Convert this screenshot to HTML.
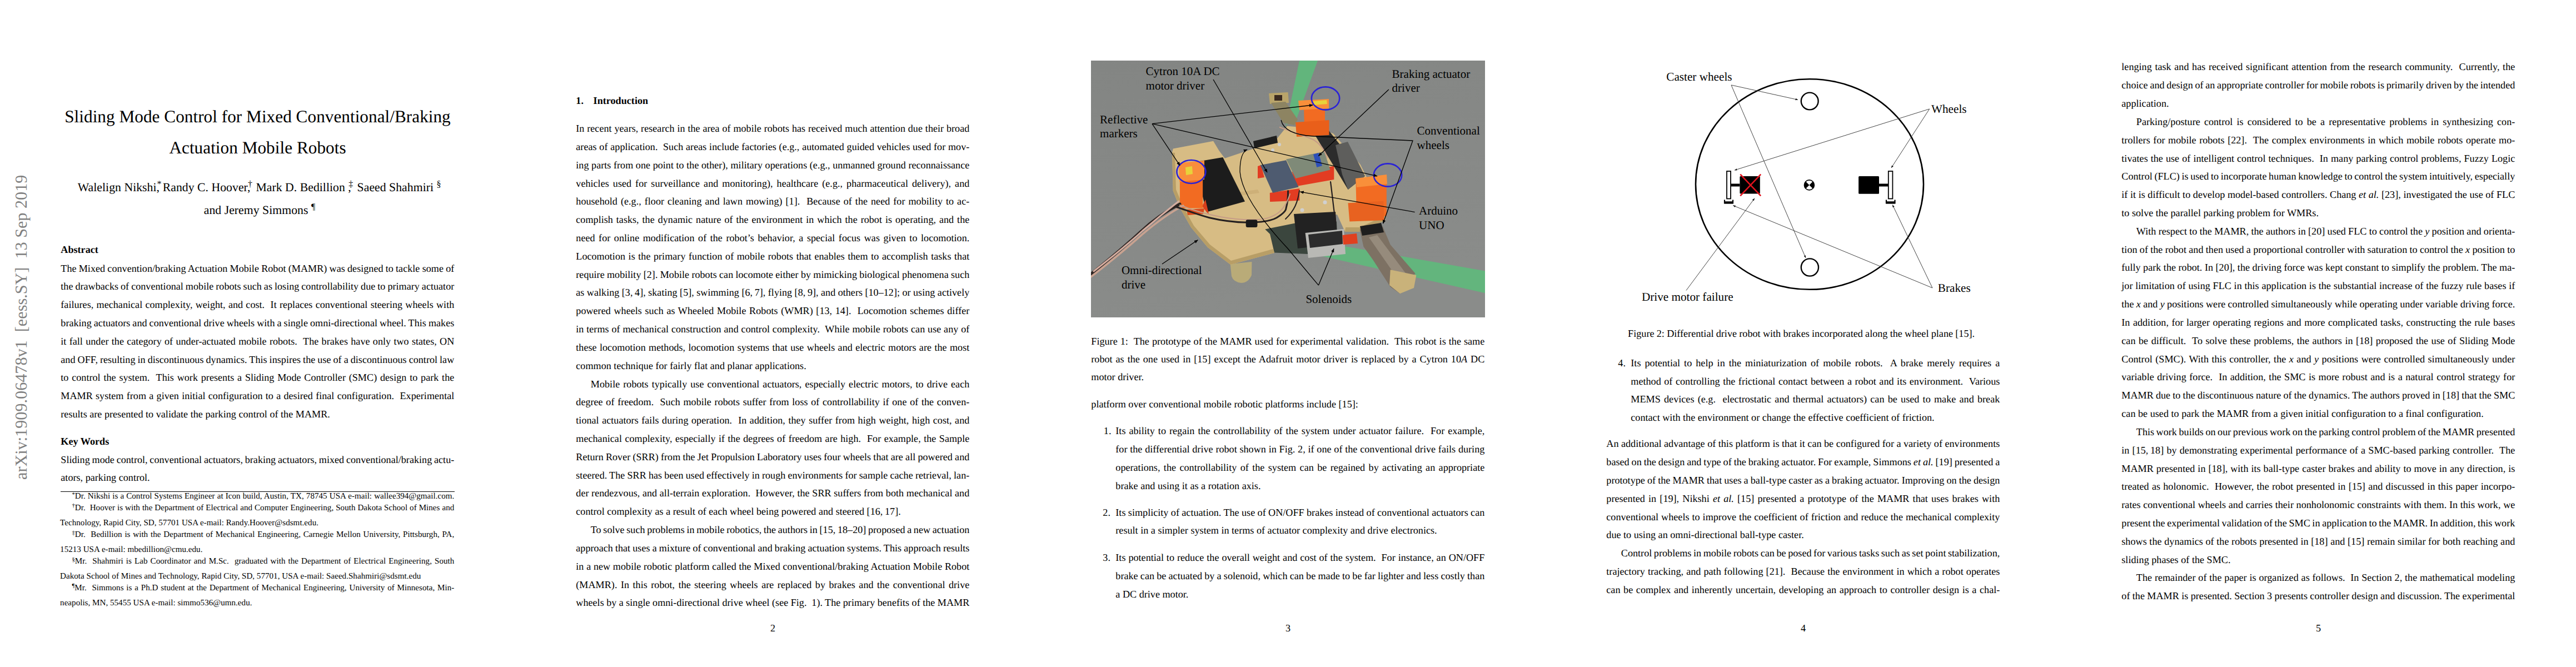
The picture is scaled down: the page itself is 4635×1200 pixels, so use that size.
<!DOCTYPE html>
<html><head><meta charset="utf-8"><style>
html,body{margin:0;padding:0;background:#fff;}
body{width:4635px;height:1200px;overflow:hidden;position:relative;font-family:"Liberation Serif",serif;color:#000;text-rendering:geometricPrecision;}
.l{position:absolute;line-height:0;white-space:nowrap;}
sup{font-size:0.74em;vertical-align:0;position:relative;top:-0.5em;line-height:0;}
sup.fs{font-size:0.7em;top:-0.4em;}
sup.au{margin-left:-0.28em;}
.stamp{position:absolute;font-family:"Liberation Serif",serif;color:#808080;white-space:nowrap;line-height:0;transform-origin:0 0;transform:rotate(-90deg);}
</style></head><body>
<div class="stamp" style="left:38.4px;top:862.5px;font-size:30.2px;">arXiv:1909.06478v1&nbsp;&nbsp;[eess.SY]&nbsp;&nbsp;13 Sep 2019</div>
<div class="fnrule" style="position:absolute;left:109px;top:884px;width:709px;height:1px;background:#000"></div>
<svg style="position:absolute;left:1963px;top:109px" width="709" height="462" viewBox="0 0 709 462">
<defs>
<linearGradient id="bg" x1="0" y1="0" x2="0.3" y2="1">
<stop offset="0" stop-color="#838583"/><stop offset="1" stop-color="#8a8c8a"/>
</linearGradient>
<marker id="ah" viewBox="0 0 10 10" refX="9" refY="5" markerWidth="7" markerHeight="7" orient="auto-start-reverse" markerUnits="userSpaceOnUse">
<path d="M0 1 L10 5 L0 9 z" fill="#000"/></marker>
</defs>
<rect width="709" height="462" fill="url(#bg)"/>
<!-- green stripes -->
<polygon points="375,0 408,0 368,110 354,112 350,120" fill="#62b57c"/>
<polygon points="330,312 709,378.4 709,418.3 330,332.5" fill="#63b57d"/>
<!-- dark underside -->
<polygon points="313,302 365,292 425,273 442,290 444,338 390,348 318,345" fill="#3b463e"/>
<!-- omni wheel -->
<path d="M250.6,366 L289.4,362 L289,386 Q283,400 270,400 Q256,398 253,388 Z" fill="#b9ab78"/>
<!-- rear brake -->
<polygon points="320,59 354.5,57 356,76 322,78" fill="#b9a46a"/>
<polygon points="324,76 350,74 372,106 366,116 346,112" fill="#8d8462"/>
<rect x="330" y="62" width="14" height="10" fill="#3a2a20"/>
<!-- platform -->
<polygon points="147.7,158.6 220.1,144.8 230.4,162 240.8,175.8 292.5,158.6 334,141.3 353,117.7 415.4,123.2 436.2,131.6 484.7,187 495,207.7 526.2,270 529.7,287.3 484.7,308 457,308 443,277 365,293 313.2,303.4 322,312 330,346 251,367 210,336 180,300 160,265 147.7,234.4 146,165.5" fill="#d7bc84"/>
<polygon points="146,165.5 147.7,234.4 160,265 180,300 210,336 251,367 330,346 328,339 252,360 214,331 185,297 166,263 153,232 151,166" fill="#b89e66"/>
<polygon points="457,308 484.7,308 529.7,287.3 528,279 484,300 458,300" fill="#b89e66"/>
<polygon points="172,250 300,232 303,238 175,256" fill="#c4a36c" opacity="0.5"/>
<!-- black slot -->
<polygon points="292,145 334,135 336,148 294,158" fill="#1e1e1e"/>
<!-- motor right bottom -->
<polygon points="483.6,303.8 524.9,298.6 538.7,331.3 583.6,383.1 556,419.3 538.7,407.2 507.7,358.9 490.4,334.8" fill="#7d7163"/>
<polygon points="500,318 515,314 568,385 553,394" fill="#a69d8e" opacity="0.6"/>
<polygon points="538.7,376.2 585.3,386 581,409 556,419.3 537,404" fill="#c9b27a"/>
<polygon points="484,298 522,292 527,309 488,315" fill="#1e1e1e"/>
<!-- solenoid -->
<polygon points="365,276 440,272 444,330 372,338" fill="#222222"/>
<polygon points="385.6,310 455,303 458,348 391,355" fill="#b9b9b5"/>
<polygon points="391,313 452,306 453,330 394,337" fill="#2c2c2c"/>
<polygon points="452.5,314 478,311 480,329 454,331" fill="#e0401e"/>
<!-- black box front -->
<polygon points="185.6,182.7 237.3,174.1 277,253.4 208,272.4" fill="#1c1c1c"/>
<polygon points="200,262 208,272.4 212,276 206,250" fill="#d8401c"/>
<!-- rear slab -->
<polygon points="401.6,131.6 427.9,126 493,207.7 462.5,232" fill="#2c2c2c"/>
<polygon points="440,152 462,146 493,207.7 462.5,232 452,205" fill="#5e5e5c"/>
<!-- electronics -->
<polygon points="361.5,200 437.3,190 437.3,214 370,226" fill="#e23c22"/>
<polygon points="321.8,238 375.3,230 375.3,251.7 322,254" fill="#e23c22"/>
<polygon points="300,190 306,188 312,210 300,212" fill="#e23c22"/>
<polygon points="351.1,177.6 420,163.8 430.4,196.5 368.4,212" fill="#7f8a78"/>
<polygon points="304.6,187.9 351.1,179.3 373.6,227.6 327,237.9" fill="#4e5b70"/>
<rect x="403" y="167" width="10" height="24" fill="#2d4fb8" transform="rotate(-15 408 179)"/>
<circle cx="339" cy="151" r="3" fill="#cfcfcf"/><circle cx="327" cy="161" r="3" fill="#cfcfcf"/>
<circle cx="421" cy="255" r="3.5" fill="#d0d0d0"/><circle cx="380" cy="269" r="3.5" fill="#d0d0d0"/>
<!-- orange pillars -->
<polygon points="159.8,188 201.1,184 201.1,265.5 160,265.5" fill="#f26b22"/>
<polygon points="158,184 204,180 204,214 159,218" fill="#f98d3c"/>
<polygon points="170,192 182,190 183,204 171,206" fill="#e8d23a"/>
<polygon points="172,268 204,266 202,276 174,278" fill="#d84a1c"/>
<polygon points="383,84 421,82 421,120 384,122" fill="#f26b22"/>
<polygon points="368,111 428.5,107 428.5,134 370,137" fill="#e95f1a"/>
<polygon points="373,72 428,69 428,86 375,89" fill="#f98f3a"/>
<polygon points="400,73 424,71 425,78 401,80" fill="#e8d23a"/>
<polygon points="476.4,214 531.8,208 531.8,280 478,282" fill="#f26b22"/>
<polygon points="462.5,256.2 526.2,252.7 527.6,287.3 465.3,289.4" fill="#e86220"/>
<polygon points="476,212 532,205 533,222 478,228" fill="#f98f3a"/>
<!-- cables -->
<g fill="none" stroke-linecap="round">
<path d="M0,384 C30,360 60,335 88,309 C115,284 140,268 160,258" stroke="#2e2422" stroke-width="5"/>
<path d="M0,389 C32,364 62,340 92,313 C120,289 145,272 166,261" stroke="#c9a290" stroke-width="3.5"/>
<path d="M5,379 C36,355 66,331 93,306 C120,283 140,267 158,253" stroke="#d4ada0" stroke-width="3"/>
<path d="M154.6,263.8 C180,272 195,278 213.2,282.7 C240,289 262,291 282.2,291.3 C305,291 325,288 334,282.7 C345,276 351,270 351,265.5 C354,255 354.6,244 354.6,234.4" stroke="#252020" stroke-width="3"/>
<path d="M160,260 C210,280 260,288 300,286 C330,284 348,272 358,240" stroke="#c69c86" stroke-width="2"/>
<path d="M375,234 C372,255 366,270 350,285" stroke="#252020" stroke-width="2"/>
<path d="M431,218 C434,240 436,262 440,290" stroke="#262020" stroke-width="2.2"/>
<path d="M340,120 C360,128 380,134 395,140 C410,146 420,160 425,175" stroke="#c69c86" stroke-width="2.2"/>
</g>
<rect x="278.7" y="286.2" width="20.7" height="13.8" rx="3" fill="#1a1a1a"/>
<!-- blue marker circles -->
<g fill="none" stroke="#2a22d6" stroke-width="2.6">
<ellipse cx="180.4" cy="200" rx="26" ry="21"/>
<ellipse cx="422" cy="68" rx="25.2" ry="20.6"/>
<ellipse cx="534" cy="206" rx="25.2" ry="20.6"/>
</g>
<!-- leader lines -->
<g fill="none" stroke="#000" stroke-width="1.3">
<line x1="220" y1="34" x2="317" y2="201" marker-end="url(#ah)"/>
<line x1="110" y1="113.6" x2="160" y2="188.8" marker-end="url(#ah)"/>
<line x1="110" y1="113.6" x2="399" y2="80" marker-end="url(#ah)"/>
<line x1="110" y1="113.6" x2="515" y2="207.8" marker-end="url(#ah)"/>
<line x1="535.8" y1="52" x2="409.4" y2="171.5" marker-end="url(#ah)"/>
<path d="M342,107 Q348,133 400,136 L579,144 L525.5,293" marker-end="url(#ah)"/>
<line x1="582.6" y1="272.6" x2="376.5" y2="236.2" marker-end="url(#ah)"/>
<path d="M409.4,404.2 L437,338.4" marker-end="url(#ah)"/>
<path d="M409.4,404.2 L354,338 Q272,250 268,200 Q268,166 281,160" marker-end="url(#ah)"/>
<line x1="128" y1="366" x2="192.2" y2="322.8" marker-end="url(#ah)"/>
</g>
</svg>
<svg style="position:absolute;left:0;top:0" width="4635" height="1200" viewBox="0 0 4635 1200">
<g fill="none" stroke="#000">
<ellipse cx="3256" cy="331.5" rx="205" ry="189.3" stroke-width="2.6"/>
<circle cx="3256.2" cy="182" r="15.4" stroke-width="2.4"/>
<circle cx="3256.4" cy="481" r="15.6" stroke-width="2.4"/>
<!-- left wheel -->
<rect x="3107" y="308" width="7" height="49.5" stroke-width="1.8" fill="#fff"/>
<path d="M3103 359.5 V365.5 H3118 V359.5" stroke-width="2.2"/>
<path d="M3103 364.3 H3118" stroke-width="4"/>
<rect x="3394" y="359.5" width="0" height="0"/>
<!-- right wheel -->
<rect x="3397.8" y="308" width="7.6" height="49.5" stroke-width="1.8" fill="#fff"/>
<path d="M3394 359.5 V365.5 H3409.5 V359.5" stroke-width="2.2"/>
<path d="M3394 364.3 H3409.5" stroke-width="4"/>
</g>
<g fill="#000">
<rect x="3114.5" y="330.5" width="16" height="5"/>
<rect x="3130.4" y="317" width="36.4" height="31.5" rx="1.5"/>
<rect x="3381" y="330.5" width="16.5" height="5"/>
<rect x="3344.1" y="317" width="36.9" height="31.7" rx="1.5"/>
</g>
<g stroke="#e0141e" stroke-width="2.6" stroke-linecap="butt">
<line x1="3131.3" y1="313.6" x2="3168.2" y2="352.3"/>
<line x1="3168.2" y1="313.6" x2="3131.3" y2="352.3"/>
</g>
<!-- center of mass -->
<circle cx="3255.4" cy="332.9" r="9" fill="#fff" stroke="#000" stroke-width="1.6"/>
<path d="M3255.4 332.9 L3249.04 326.54 A9 9 0 0 0 3249.04 339.26 Z M3255.4 332.9 L3261.76 326.54 A9 9 0 0 1 3261.76 339.26 Z" fill="#000"/>
<!-- leaders -->
<defs><marker id="ah2" viewBox="0 0 10 10" refX="10" refY="5" markerWidth="4.5" markerHeight="4.5" orient="auto" markerUnits="userSpaceOnUse"><path d="M0 1 L10 5 L0 9 z" fill="#111"/></marker></defs>
<g stroke="#3a3a3a" stroke-width="0.95" fill="none">
<line x1="3115" y1="153" x2="3235" y2="179.5" marker-end="url(#ah2)"/>
<line x1="3115" y1="153" x2="3249" y2="464" marker-end="url(#ah2)"/>
<line x1="3471.7" y1="196" x2="3121" y2="306.2" marker-end="url(#ah2)"/>
<line x1="3471.7" y1="196" x2="3403" y2="302" marker-end="url(#ah2)"/>
<line x1="3477" y1="518" x2="3118.2" y2="369.6" marker-end="url(#ah2)"/>
<line x1="3477" y1="518" x2="3405.2" y2="368.5" marker-end="url(#ah2)"/>
<line x1="3033.9" y1="522.6" x2="3157" y2="356.8" marker-end="url(#ah2)"/>
</g>
</svg>

<div class="l" id="L0" style="left:116.21px;top:209.74px;font-size:31.30px;">Sliding Mode Control for Mixed Conventional/Braking</div>
<div class="l" id="L1" style="left:304.41px;top:265.94px;font-size:31.30px;">Actuation Mobile Robots</div>
<div class="l" id="L2" style="left:139.80px;top:337.24px;font-size:21.80px;">Walelign Nikshi,<sup class="au">*</sup></div>
<div class="l" id="L3" style="left:292.70px;top:337.24px;font-size:21.80px;">Randy C. Hoover,<sup class="au">&dagger;</sup></div>
<div class="l" id="L4" style="left:460.40px;top:337.24px;font-size:21.80px;">Mark D. Bedillion ,<sup class="au">&Dagger;</sup></div>
<div class="l" id="L5" style="left:642.60px;top:337.24px;font-size:21.80px;">Saeed Shahmiri <sup>&sect;</sup></div>
<div class="l" id="L6" style="left:366.77px;top:377.64px;font-size:21.80px;">and Jeremy Simmons <sup>&para;</sup></div>
<div class="l" id="L7" style="left:109.30px;top:449.27px;font-size:18.17px;"><b>Abstract</b></div>
<div class="l" id="L8" style="left:109.30px;top:482.57px;font-size:18.17px;word-spacing:-0.335px;">The Mixed convention/braking Actuation Mobile Robot (MAMR) was designed to tackle some of</div>
<div class="l" id="L9" style="left:109.30px;top:515.39px;font-size:18.17px;word-spacing:-0.576px;">the drawbacks of conventional mobile robots such as losing controllability due to primary actuator</div>
<div class="l" id="L10" style="left:109.30px;top:548.21px;font-size:18.17px;word-spacing:0.698px;">failures, mechanical complexity, weight, and cost.&nbsp; It replaces conventional steering wheels with</div>
<div class="l" id="L11" style="left:109.30px;top:581.03px;font-size:18.17px;word-spacing:-0.510px;">braking actuators and conventional drive wheels with a single omni-directional wheel. This makes</div>
<div class="l" id="L12" style="left:109.30px;top:613.85px;font-size:18.17px;word-spacing:0.744px;">it fall under the category of under-actuated mobile robots.&nbsp; The brakes have only two states, ON</div>
<div class="l" id="L13" style="left:109.30px;top:646.67px;font-size:18.17px;word-spacing:-0.523px;">and OFF, resulting in discontinuous dynamics. This inspires the use of a discontinuous control law</div>
<div class="l" id="L14" style="left:109.30px;top:679.49px;font-size:18.17px;word-spacing:1.249px;">to control the system.&nbsp; This work presents a Sliding Mode Controller (SMC) design to park the</div>
<div class="l" id="L15" style="left:109.30px;top:712.31px;font-size:18.17px;word-spacing:0.703px;">MAMR system from a given initial configuration to a desired final configuration.&nbsp; Experimental</div>
<div class="l" id="L16" style="left:109.30px;top:745.13px;font-size:18.17px;">results are presented to validate the parking control of the MAMR.</div>
<div class="l" id="L17" style="left:109.30px;top:793.77px;font-size:18.17px;"><b>Key Words</b></div>
<div class="l" id="L18" style="left:109.30px;top:826.57px;font-size:18.17px;word-spacing:-0.774px;">Sliding mode control, conventional actuators, braking actuators, mixed conventional/braking actu-</div>
<div class="l" id="L19" style="left:109.30px;top:859.39px;font-size:18.17px;">ators, parking control.</div>
<div class="l" id="L20" style="left:129.50px;top:893.19px;font-size:15.14px;word-spacing:0.312px;"><sup class="fs">*</sup>Dr. Nikshi is a Control Systems Engineer at Icon build, Austin, TX, 78745 USA e-mail: wallee394@gmail.com.</div>
<div class="l" id="L21" style="left:129.50px;top:913.59px;font-size:15.14px;word-spacing:0.193px;"><sup class="fs">&dagger;</sup>Dr.&nbsp; Hoover is with the Department of Electrical and Computer Engineering, South Dakota School of Mines and</div>
<div class="l" id="L22" style="left:108.10px;top:940.89px;font-size:15.14px;">Technology, Rapid City, SD, 57701 USA e-mail: Randy.Hoover@sdsmt.edu.</div>
<div class="l" id="L23" style="left:129.50px;top:961.79px;font-size:15.14px;word-spacing:1.021px;"><sup class="fs">&Dagger;</sup>Dr.&nbsp; Bedillion is with the Department of Mechanical Engineering, Carnegie Mellon University, Pittsburgh, PA,</div>
<div class="l" id="L24" style="left:108.10px;top:989.29px;font-size:15.14px;">15213 USA e-mail: mbedillion@cmu.edu.</div>
<div class="l" id="L25" style="left:129.50px;top:1009.99px;font-size:15.14px;word-spacing:1.282px;"><sup class="fs">&sect;</sup>Mr.&nbsp; Shahmiri is Lab Coordinator and M.Sc.&nbsp; graduated with the Department of Electrical Engineering, South</div>
<div class="l" id="L26" style="left:108.10px;top:1037.29px;font-size:15.14px;">Dakota School of Mines and Technology, Rapid City, SD, 57701, USA e-mail: Saeed.Shahmiri@sdsmt.edu</div>
<div class="l" id="L27" style="left:129.50px;top:1057.69px;font-size:15.14px;word-spacing:1.048px;"><sup class="fs">&para;</sup>Mr.&nbsp; Simmons is a Ph.D student at the Department of Mechanical Engineering, University of Minnesota, Min-</div>
<div class="l" id="L28" style="left:108.10px;top:1084.89px;font-size:15.14px;">neapolis, MN, 55455 USA e-mail: simmo536@umn.edu.</div>
<div class="l" id="L29" style="left:1036.30px;top:180.87px;font-size:18.17px;"><b>1.</b></div>
<div class="l" id="L30" style="left:1067.60px;top:180.87px;font-size:18.17px;"><b>Introduction</b></div>
<div class="l" id="L31" style="left:1036.30px;top:231.07px;font-size:18.17px;word-spacing:0.296px;">In recent years, research in the area of mobile robots has received much attention due their broad</div>
<div class="l" id="L32" style="left:1036.30px;top:263.89px;font-size:18.17px;word-spacing:0.228px;">areas of application.&nbsp; Such areas include factories (e.g., automated guided vehicles used for mov-</div>
<div class="l" id="L33" style="left:1036.30px;top:296.71px;font-size:18.17px;word-spacing:0.046px;">ing parts from one point to the other), military operations (e.g., unmanned ground reconnaissance</div>
<div class="l" id="L34" style="left:1036.30px;top:329.53px;font-size:18.17px;word-spacing:2.491px;">vehicles used for surveillance and monitoring), healthcare (e.g., pharmaceutical delivery), and</div>
<div class="l" id="L35" style="left:1036.30px;top:362.35px;font-size:18.17px;word-spacing:1.456px;">household (e.g., floor cleaning and lawn mowing) [1].&nbsp; Because of the need for mobility to ac-</div>
<div class="l" id="L36" style="left:1036.30px;top:395.17px;font-size:18.17px;word-spacing:1.382px;">complish tasks, the dynamic nature of the environment in which the robot is operating, and the</div>
<div class="l" id="L37" style="left:1036.30px;top:427.99px;font-size:18.17px;word-spacing:2.002px;">need for online modification of the robot&rsquo;s behavior, a special focus was given to locomotion.</div>
<div class="l" id="L38" style="left:1036.30px;top:460.81px;font-size:18.17px;word-spacing:1.011px;">Locomotion is the primary function of mobile robots that enables them to accomplish tasks that</div>
<div class="l" id="L39" style="left:1036.30px;top:493.63px;font-size:18.17px;word-spacing:-0.289px;">require mobility [2]. Mobile robots can locomote either by mimicking biological phenomena such</div>
<div class="l" id="L40" style="left:1036.30px;top:526.45px;font-size:18.17px;word-spacing:-0.093px;">as walking [3,&thinsp;4], skating [5], swimming [6,&thinsp;7], flying [8,&thinsp;9], and others [10&ndash;12]; or using actively</div>
<div class="l" id="L41" style="left:1036.30px;top:559.27px;font-size:18.17px;word-spacing:1.103px;">powered wheels such as Wheeled Mobile Robots (WMR) [13, 14].&nbsp; Locomotion schemes differ</div>
<div class="l" id="L42" style="left:1036.30px;top:592.09px;font-size:18.17px;word-spacing:0.309px;">in terms of mechanical construction and control complexity.&nbsp; While mobile robots can use any of</div>
<div class="l" id="L43" style="left:1036.30px;top:624.91px;font-size:18.17px;word-spacing:0.857px;">these locomotion methods, locomotion systems that use wheels and electric motors are the most</div>
<div class="l" id="L44" style="left:1036.30px;top:657.73px;font-size:18.17px;">common technique for fairly flat and planar applications.</div>
<div class="l" id="L45" style="left:1062.80px;top:690.55px;font-size:18.17px;word-spacing:1.499px;">Mobile robots typically use conventional actuators, especially electric motors, to drive each</div>
<div class="l" id="L46" style="left:1036.30px;top:723.37px;font-size:18.17px;word-spacing:1.130px;">degree of freedom.&nbsp; Such mobile robots suffer from loss of controllability if one of the conven-</div>
<div class="l" id="L47" style="left:1036.30px;top:756.19px;font-size:18.17px;word-spacing:1.001px;">tional actuators fails during operation.&nbsp; In addition, they suffer from high weight, high cost, and</div>
<div class="l" id="L48" style="left:1036.30px;top:789.01px;font-size:18.17px;word-spacing:0.924px;">mechanical complexity, especially if the degrees of freedom are high.&nbsp; For example, the Sample</div>
<div class="l" id="L49" style="left:1036.30px;top:821.83px;font-size:18.17px;word-spacing:-0.365px;">Return Rover (SRR) from the Jet Propulsion Laboratory uses four wheels that are all powered and</div>
<div class="l" id="L50" style="left:1036.30px;top:854.65px;font-size:18.17px;word-spacing:-0.374px;">steered. The SRR has been used effectively in rough environments for sample cache retrieval, lan-</div>
<div class="l" id="L51" style="left:1036.30px;top:887.47px;font-size:18.17px;word-spacing:0.091px;">der rendezvous, and all-terrain exploration.&nbsp; However, the SRR suffers from both mechanical and</div>
<div class="l" id="L52" style="left:1036.30px;top:920.29px;font-size:18.17px;">control complexity as a result of each wheel being powered and steered [16,&thinsp;17].</div>
<div class="l" id="L53" style="left:1062.80px;top:953.11px;font-size:18.17px;word-spacing:-0.906px;">To solve such problems in mobile robotics, the authors in [15,&thinsp;18&ndash;20] proposed a new actuation</div>
<div class="l" id="L54" style="left:1036.30px;top:985.93px;font-size:18.17px;word-spacing:-0.433px;">approach that uses a mixture of conventional and braking actuation systems. This approach results</div>
<div class="l" id="L55" style="left:1036.30px;top:1018.75px;font-size:18.17px;word-spacing:0.173px;">in a new mobile robotic platform called the Mixed conventional/braking Actuation Mobile Robot</div>
<div class="l" id="L56" style="left:1036.30px;top:1051.57px;font-size:18.17px;word-spacing:1.953px;">(MAMR). In this robot, the steering wheels are replaced by brakes and the conventional drive</div>
<div class="l" id="L57" style="left:1036.30px;top:1084.39px;font-size:18.17px;word-spacing:-0.101px;">wheels by a single omni-directional drive wheel (see Fig.&nbsp; 1). The primary benefits of the MAMR</div>
<div class="l" id="L58" style="left:1385.96px;top:1129.87px;font-size:18.17px;">2</div>
<div class="l" id="L59" style="left:2312.96px;top:1129.87px;font-size:18.17px;">3</div>
<div class="l" id="L60" style="left:3239.96px;top:1129.87px;font-size:18.17px;">4</div>
<div class="l" id="L61" style="left:4166.96px;top:1129.87px;font-size:18.17px;">5</div>
<div class="l" id="L62" style="left:1963.30px;top:613.77px;font-size:18.17px;word-spacing:0.516px;">Figure 1:&nbsp; The prototype of the MAMR used for experimental validation.&nbsp; This robot is the same</div>
<div class="l" id="L63" style="left:1963.30px;top:645.77px;font-size:18.17px;word-spacing:1.405px;">robot as the one used in [15] except the Adafruit motor driver is replaced by a Cytron 10<i>A</i> DC</div>
<div class="l" id="L64" style="left:1963.30px;top:677.77px;font-size:18.17px;">motor driver.</div>
<div class="l" id="L65" style="left:1963.30px;top:726.57px;font-size:18.17px;">platform over conventional mobile robotic platforms include [15]:</div>
<div class="l" id="L66" style="left:1985.80px;top:775.37px;font-size:18.17px;">1.</div>
<div class="l" id="L67" style="left:2007.30px;top:775.37px;font-size:18.17px;word-spacing:1.474px;">Its ability to regain the controllability of the system under actuator failure.&nbsp; For example,</div>
<div class="l" id="L68" style="left:2007.30px;top:808.19px;font-size:18.17px;word-spacing:0.237px;">for the differential drive robot shown in Fig. 2, if one of the conventional drive fails during</div>
<div class="l" id="L69" style="left:2007.30px;top:841.01px;font-size:18.17px;word-spacing:1.849px;">operations, the controllability of the system can be regained by activating an appropriate</div>
<div class="l" id="L70" style="left:2007.30px;top:873.83px;font-size:18.17px;">brake and using it as a rotation axis.</div>
<div class="l" id="L71" style="left:1984.30px;top:921.67px;font-size:18.17px;">2.</div>
<div class="l" id="L72" style="left:2007.30px;top:921.67px;font-size:18.17px;word-spacing:-0.173px;">Its simplicity of actuation. The use of ON/OFF brakes instead of conventional actuators can</div>
<div class="l" id="L73" style="left:2007.30px;top:954.49px;font-size:18.17px;">result in a simpler system in terms of actuator complexity and drive electronics.</div>
<div class="l" id="L74" style="left:1984.30px;top:1003.07px;font-size:18.17px;">3.</div>
<div class="l" id="L75" style="left:2007.30px;top:1003.07px;font-size:18.17px;word-spacing:0.404px;">Its potential to reduce the overall weight and cost of the system.&nbsp; For instance, an ON/OFF</div>
<div class="l" id="L76" style="left:2007.30px;top:1035.89px;font-size:18.17px;word-spacing:-0.335px;">brake can be actuated by a solenoid, which can be made to be far lighter and less costly than</div>
<div class="l" id="L77" style="left:2007.30px;top:1068.71px;font-size:18.17px;">a DC drive motor.</div>
<div class="l" id="L78" style="left:2929.10px;top:600.47px;font-size:18.17px;word-spacing:-0.281px;">Figure 2: Differential drive robot with brakes incorporated along the wheel plane [15].</div>
<div class="l" id="L79" style="left:2911.30px;top:652.77px;font-size:18.17px;">4.</div>
<div class="l" id="L80" style="left:2934.30px;top:652.77px;font-size:18.17px;word-spacing:2.518px;">Its potential to help in the miniaturization of mobile robots.&nbsp; A brake merely requires a</div>
<div class="l" id="L81" style="left:2934.30px;top:685.59px;font-size:18.17px;word-spacing:0.992px;">method of controlling the frictional contact between a robot and its environment.&nbsp; Various</div>
<div class="l" id="L82" style="left:2934.30px;top:718.41px;font-size:18.17px;word-spacing:1.695px;">MEMS devices (e.g.&nbsp; electrostatic and thermal actuators) can be used to make and break</div>
<div class="l" id="L83" style="left:2934.30px;top:751.23px;font-size:18.17px;">contact with the environment or change the effective coefficient of friction.</div>
<div class="l" id="L84" style="left:2890.30px;top:798.27px;font-size:18.17px;word-spacing:-0.056px;">An additional advantage of this platform is that it can be configured for a variety of environments</div>
<div class="l" id="L85" style="left:2890.30px;top:831.09px;font-size:18.17px;word-spacing:-0.589px;">based on the design and type of the braking actuator. For example, Simmons <i>et al.</i> [19] presented a</div>
<div class="l" id="L86" style="left:2890.30px;top:863.91px;font-size:18.17px;word-spacing:-0.468px;">prototype of the MAMR that uses a ball-type caster as a braking actuator. Improving on the design</div>
<div class="l" id="L87" style="left:2890.30px;top:896.73px;font-size:18.17px;word-spacing:1.641px;">presented in [19], Nikshi <i>et al.</i> [15] presented a prototype of the MAMR that uses brakes with</div>
<div class="l" id="L88" style="left:2890.30px;top:929.55px;font-size:18.17px;word-spacing:0.462px;">conventional wheels to improve the coefficient of friction and reduce the mechanical complexity</div>
<div class="l" id="L89" style="left:2890.30px;top:962.37px;font-size:18.17px;">due to using an omni-directional ball-type caster.</div>
<div class="l" id="L90" style="left:2916.80px;top:995.19px;font-size:18.17px;word-spacing:-0.959px;">Control problems in mobile robots can be posed for various tasks such as set point stabilization,</div>
<div class="l" id="L91" style="left:2890.30px;top:1028.01px;font-size:18.17px;word-spacing:0.586px;">trajectory tracking, and path following [21].&nbsp; Because the environment in which a robot operates</div>
<div class="l" id="L92" style="left:2890.30px;top:1060.83px;font-size:18.17px;word-spacing:1.056px;">can be complex and inherently uncertain, developing an approach to controller design is a chal-</div>
<div class="l" id="L93" style="left:3817.30px;top:120.47px;font-size:18.17px;word-spacing:1.083px;">lenging task and has received significant attention from the research community.&nbsp; Currently, the</div>
<div class="l" id="L94" style="left:3817.30px;top:153.29px;font-size:18.17px;word-spacing:-0.833px;">choice and design of an appropriate controller for mobile robots is primarily driven by the intended</div>
<div class="l" id="L95" style="left:3817.30px;top:186.11px;font-size:18.17px;">application.</div>
<div class="l" id="L96" style="left:3843.80px;top:218.93px;font-size:18.17px;word-spacing:2.595px;">Parking/posture control is considered to be a representative problems in synthesizing con-</div>
<div class="l" id="L97" style="left:3817.30px;top:251.75px;font-size:18.17px;word-spacing:1.073px;">trollers for mobile robots [22].&nbsp; The complex environments in which mobile robots operate mo-</div>
<div class="l" id="L98" style="left:3817.30px;top:284.57px;font-size:18.17px;word-spacing:0.509px;">tivates the use of intelligent control techniques.&nbsp; In many parking control problems, Fuzzy Logic</div>
<div class="l" id="L99" style="left:3817.30px;top:317.39px;font-size:18.17px;word-spacing:-0.916px;">Control (FLC) is used to incorporate human knowledge to control the system intuitively, especially</div>
<div class="l" id="L100" style="left:3817.30px;top:350.21px;font-size:18.17px;word-spacing:0.055px;">if it is difficult to develop model-based controllers. Chang <i>et al.</i> [23], investigated the use of FLC</div>
<div class="l" id="L101" style="left:3817.30px;top:383.03px;font-size:18.17px;">to solve the parallel parking problem for WMRs.</div>
<div class="l" id="L102" style="left:3843.80px;top:415.85px;font-size:18.17px;word-spacing:-0.269px;">With respect to the MAMR, the authors in [20] used FLC to control the <i>y</i> position and orienta-</div>
<div class="l" id="L103" style="left:3817.30px;top:448.67px;font-size:18.17px;word-spacing:-0.265px;">tion of the robot and then used a proportional controller with saturation to control the <i>x</i> position to</div>
<div class="l" id="L104" style="left:3817.30px;top:481.49px;font-size:18.17px;word-spacing:-0.035px;">fully park the robot. In [20], the driving force was kept constant to simplify the problem. The ma-</div>
<div class="l" id="L105" style="left:3817.30px;top:514.31px;font-size:18.17px;word-spacing:0.210px;">jor limitation of using FLC in this application is the substantial increase of the fuzzy rule bases if</div>
<div class="l" id="L106" style="left:3817.30px;top:547.13px;font-size:18.17px;word-spacing:-0.226px;">the <i>x</i> and <i>y</i> positions were controlled simultaneously while operating under variable driving force.</div>
<div class="l" id="L107" style="left:3817.30px;top:579.95px;font-size:18.17px;word-spacing:0.927px;">In addition, for larger operating regions and more complicated tasks, constructing the rule bases</div>
<div class="l" id="L108" style="left:3817.30px;top:612.77px;font-size:18.17px;word-spacing:0.976px;">can be difficult.&nbsp; To solve these problems, the authors in [18] proposed the use of Sliding Mode</div>
<div class="l" id="L109" style="left:3817.30px;top:645.59px;font-size:18.17px;word-spacing:0.953px;">Control (SMC). With this controller, the <i>x</i> and <i>y</i> positions were controlled simultaneously under</div>
<div class="l" id="L110" style="left:3817.30px;top:678.41px;font-size:18.17px;word-spacing:0.983px;">variable driving force.&nbsp; In addition, the SMC is more robust and is a natural control strategy for</div>
<div class="l" id="L111" style="left:3817.30px;top:711.23px;font-size:18.17px;word-spacing:-0.389px;">MAMR due to the discontinuous nature of the dynamics. The authors proved in [18] that the SMC</div>
<div class="l" id="L112" style="left:3817.30px;top:744.05px;font-size:18.17px;">can be used to park the MAMR from a given initial configuration to a final configuration.</div>
<div class="l" id="L113" style="left:3843.80px;top:776.87px;font-size:18.17px;word-spacing:-0.993px;">This work builds on our previous work on the parking control problem of the MAMR presented</div>
<div class="l" id="L114" style="left:3817.30px;top:809.69px;font-size:18.17px;word-spacing:0.658px;">in [15,&thinsp;18] by demonstrating experimental performance of a SMC-based parking controller.&nbsp; The</div>
<div class="l" id="L115" style="left:3817.30px;top:842.51px;font-size:18.17px;word-spacing:0.444px;">MAMR presented in [18], with its ball-type caster brakes and ability to move in any direction, is</div>
<div class="l" id="L116" style="left:3817.30px;top:875.33px;font-size:18.17px;word-spacing:0.694px;">treated as holonomic.&nbsp; However, the robot presented in [15] and discussed in this paper incorpo-</div>
<div class="l" id="L117" style="left:3817.30px;top:908.15px;font-size:18.17px;word-spacing:0.123px;">rates conventional wheels and carries their nonholonomic constraints with them. In this work, we</div>
<div class="l" id="L118" style="left:3817.30px;top:940.97px;font-size:18.17px;word-spacing:-0.906px;">present the experimental validation of the SMC in application to the MAMR. In addition, this work</div>
<div class="l" id="L119" style="left:3817.30px;top:973.79px;font-size:18.17px;word-spacing:0.132px;">shows the dynamics of the robots presented in [18] and [15] remain similar for both reaching and</div>
<div class="l" id="L120" style="left:3817.30px;top:1006.61px;font-size:18.17px;">sliding phases of the SMC.</div>
<div class="l" id="L121" style="left:3843.80px;top:1039.43px;font-size:18.17px;word-spacing:0.315px;">The remainder of the paper is organized as follows.&nbsp; In Section 2, the mathematical modeling</div>
<div class="l" id="L122" style="left:3817.30px;top:1072.25px;font-size:18.17px;word-spacing:-0.165px;">of the MAMR is presented. Section 3 presents controller design and discussion. The experimental</div>
<div class="l" id="L123" style="left:2998.30px;top:138.44px;font-size:21.20px;">Caster wheels</div>
<div class="l" id="L124" style="left:3475.00px;top:196.04px;font-size:21.20px;">Wheels</div>
<div class="l" id="L125" style="left:3486.80px;top:517.95px;font-size:21.20px;">Brakes</div>
<div class="l" id="L126" style="left:2953.90px;top:533.64px;font-size:21.20px;">Drive motor failure</div>
<div class="l" id="L127" style="left:2061.60px;top:127.91px;font-size:21.00px;">Cytron 10A DC</div>
<div class="l" id="L128" style="left:2061.60px;top:153.91px;font-size:21.00px;">motor driver</div>
<div class="l" id="L129" style="left:1979.10px;top:214.51px;font-size:21.00px;">Reflective</div>
<div class="l" id="L130" style="left:1979.10px;top:240.41px;font-size:21.00px;">markers</div>
<div class="l" id="L131" style="left:2504.60px;top:133.11px;font-size:21.00px;">Braking actuator</div>
<div class="l" id="L132" style="left:2504.60px;top:158.41px;font-size:21.00px;">driver</div>
<div class="l" id="L133" style="left:2549.60px;top:235.31px;font-size:21.00px;">Conventional</div>
<div class="l" id="L134" style="left:2549.60px;top:260.51px;font-size:21.00px;">wheels</div>
<div class="l" id="L135" style="left:2017.90px;top:486.31px;font-size:21.00px;">Omni-directional</div>
<div class="l" id="L136" style="left:2017.90px;top:511.91px;font-size:21.00px;">drive</div>
<div class="l" id="L137" style="left:2553.10px;top:378.91px;font-size:21.00px;">Arduino</div>
<div class="l" id="L138" style="left:2553.10px;top:404.91px;font-size:21.00px;">UNO</div>
<div class="l" id="L139" style="left:2349.40px;top:538.31px;font-size:21.00px;">Solenoids</div>
</body></html>
